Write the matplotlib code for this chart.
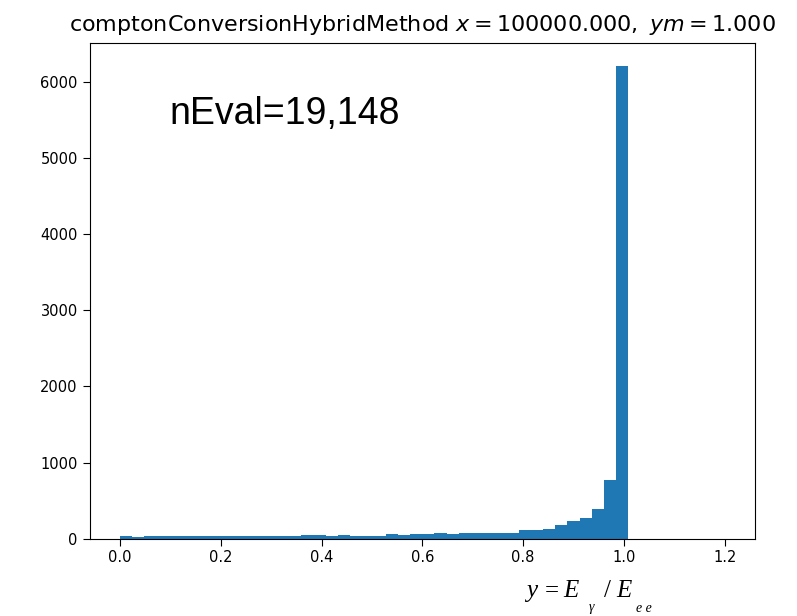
import numpy as np
from matplotlib import pyplot as plt

# 直方图 50个区间 范围0~1.2
bin_range = (0.0, 1.2)
n_bins = 50
counts = [40, 20, 35, 35, 35, 35, 35, 35, 35, 35,
          35, 35, 35, 35, 35, 50, 50, 38, 50, 40,
          40, 40, 58, 45, 57, 57, 75, 60, 80, 80,
          80, 80, 80, 112, 115, 131, 185, 238, 271, 395,
          770, 6200, 0, 0, 0, 0, 0, 0, 0, 0]

title = r'comptonConversionHybridMethod $x = 100000.000,\ ym = 1.000$'
note = 'nEval=19,148'

W, H = 797, 616

edges = np.linspace(bin_range[0], bin_range[1], n_bins + 1)
centers = (edges[:-1] + edges[1:]) / 2

fig = plt.figure(figsize=(W / 100, H / 100), dpi=100)
ax = fig.add_axes([0.1125, 0.1255, 0.8348, 0.8052])
ax.hist(centers, bins=edges, weights=counts, color='#1f77b4')

ax.set_title(title, fontsize=16, pad=8.5)
ax.tick_params(labelsize=10.5, length=5)
ax.set_yticks([0, 1000, 2000, 3000, 4000, 5000, 6000])

# 标注
fig.text(0.213, 0.815, note, fontsize=27, family='Liberation Sans', va='center')


# x轴说明 y = E_gamma / E_ee (Times风格, 下标偏低)
def put(x, y, s, size, style='italic'):
    fig.text(x / W, 1 - y / H, s, fontsize=size, family='Liberation Serif',
             style=style, ha='left', va='baseline')


put(526, 597, 'y', 18)
put(545, 597, '=', 18, 'normal')
put(563, 597, 'E', 18)
put(589, 611, 'γ', 10)
put(604, 597, '/', 18, 'normal')
put(616, 597, 'E', 18)
put(636, 612, 'e e', 10)

plt.savefig('out.png', dpi=100)
